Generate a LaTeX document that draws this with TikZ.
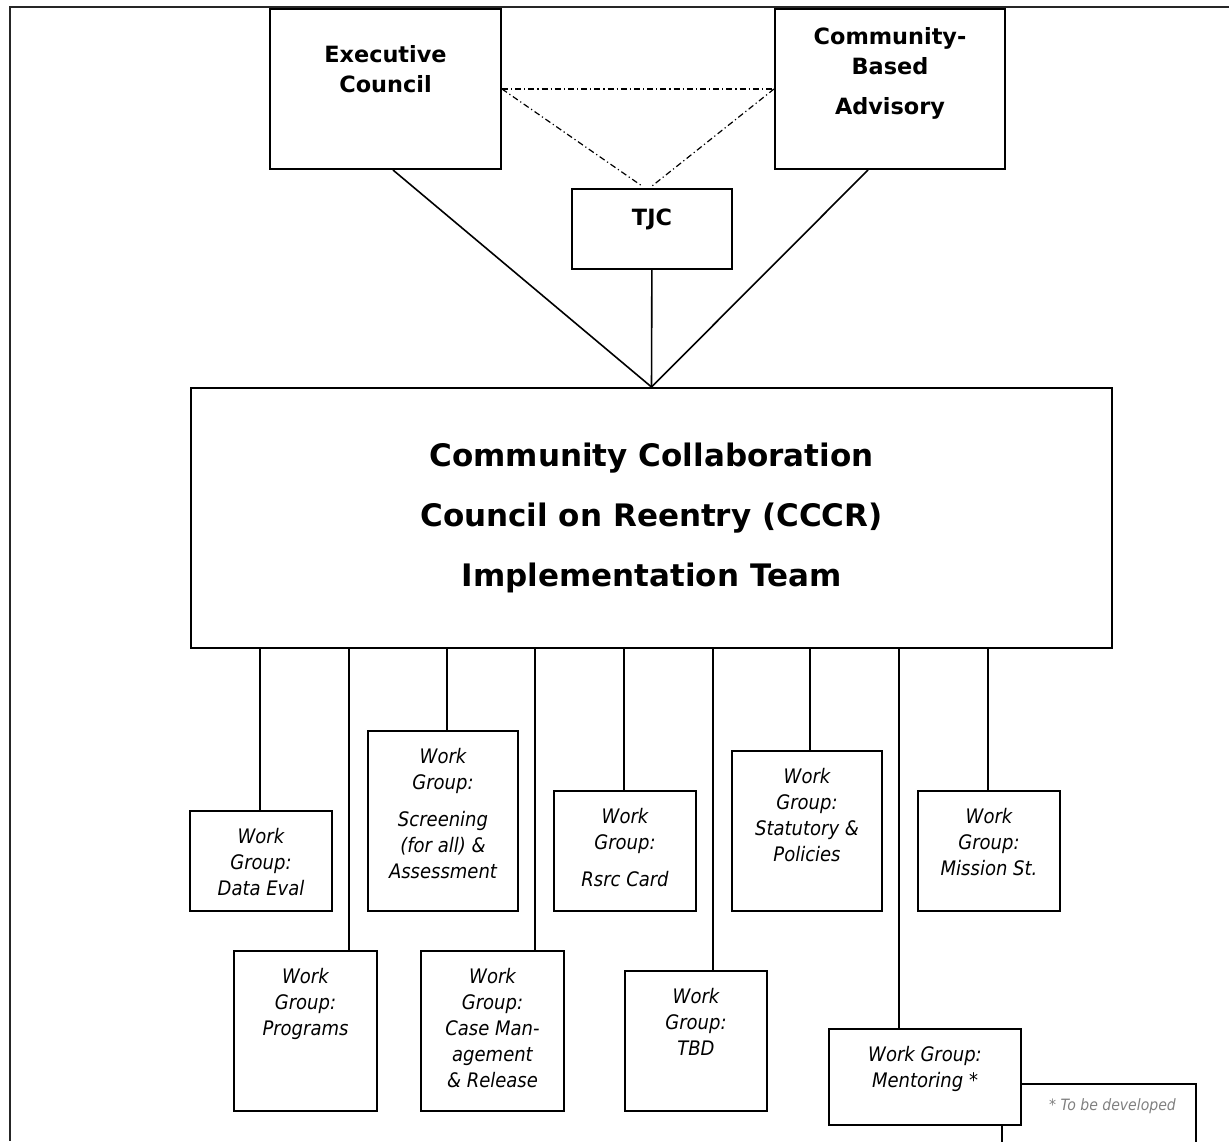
\documentclass[tikz,border=0pt]{standalone}
\usepackage{fontspec}
\setmainfont{DejaVu Sans}
\newfontfamily\condfont{DejaVu Sans Condensed}
\usetikzlibrary{positioning}

\newcommand{\boxtext}[4]{\parbox[t][#2][t]{#1}{\centering\vspace*{#3}#4}}

\begin{document}
\begin{tikzpicture}[
  x=0.5pt, y=-0.5pt,
  frame/.style={line width=1pt, draw=black!85},
  topbox/.style={rectangle, draw, line width=1pt, inner sep=0pt, anchor=north west,
                 font=\bfseries\fontsize{11.2}{15}\selectfont},
  mainbox/.style={rectangle, draw, line width=1pt, anchor=north west,
                  minimum width=460.5pt, minimum height=130pt, align=center,
                  font=\bfseries\fontsize{15.5}{30}\selectfont},
  wg/.style={rectangle, draw, line width=1pt, inner sep=0pt, anchor=north west, fill=white,
             font=\condfont\itshape\fontsize{10}{13}\selectfont},
  note/.style={rectangle, draw, line width=0.8pt, inner sep=0pt, anchor=north west,
               text=gray, font=\condfont\itshape\fontsize{7.8}{9}\selectfont},
  link/.style={line width=0.8pt},
  tie/.style={line width=0.6pt, dash pattern=on 3pt off 1.5pt on 0.6pt off 1.5pt}
]
  \useasboundingbox (0,0) rectangle (1229,1141);

  \draw[frame] (1229,6.5) -- (10,6.5) -- (10,1141);

  \node[topbox] (exec)     at (269,8)   {\boxtext{115.5pt}{80pt}{18pt}{Executive\\Council}};
  \node[topbox] (advisory) at (774,8)   {\boxtext{115pt}{80pt}{9pt}{Community-\\Based\\[5pt]Advisory}};
  \node[topbox] (tjc)      at (571,188) {\boxtext{80pt}{40pt}{10pt}{TJC}};
  \node[mainbox] (cccr)    at (190,387) {Community Collaboration\\Council on Reentry (CCCR)\\Implementation Team};

  \node[wg] (dataeval)  at (189,810) {\boxtext{71pt}{50pt}{8.5pt}{Work\\Group:\\Data Eval}};
  \node[wg] (programs)  at (233,950) {\boxtext{71.5pt}{80pt}{8.5pt}{Work\\Group:\\Programs}};
  \node[wg] (screening) at (367,730) {\boxtext{75pt}{90pt}{8.5pt}{Work\\Group:\\[5.5pt]Screening\\(for all) \&\\Assessment}};
  \node[wg] (casemgmt)  at (420,950) {\boxtext{71.5pt}{80pt}{8.5pt}{Work\\Group:\\Case Man-\\agement\\\& Release}};
  \node[wg] (rsrccard)  at (553,790) {\boxtext{71pt}{60pt}{8.5pt}{Work\\Group:\\[5.5pt]Rsrc Card}};
  \node[wg] (tbd)       at (624,970) {\boxtext{71pt}{70pt}{8.5pt}{Work\\Group:\\TBD}};
  \node[wg] (statutory) at (731,750) {\boxtext{75pt}{80pt}{8.5pt}{Work\\Group:\\Statutory \&\\Policies}};
  \node[note] (todo)    at (1001,1083) {\parbox[t][40pt][t]{97pt}{\raggedleft\vspace*{7.5pt}* To be developed\hspace*{10pt}}};
  \node[wg] (mentoring) at (828,1028) {\boxtext{96pt}{48pt}{8.5pt}{Work Group:\\Mentoring *}};
  \node[wg] (mission)   at (917,790) {\boxtext{71pt}{60pt}{8.5pt}{Work\\Group:\\Mission St.}};

  % links to the implementation team
  \draw[link] (exec.south -| 393,0) -- (cccr.north);
  \draw[link] (advisory.south -| 868,0) -- (cccr.north);
  \draw[link] (tjc) -- (cccr.north);
  \draw[tie] (exec.east) -- (advisory.west);
  \draw[tie] (exec.east) -- ([xshift=-5pt, yshift=1pt]tjc.north);
  \draw[tie] (advisory.west) -- ([yshift=1pt]tjc.north);

  % work groups
  \foreach \x/\grp in {260/dataeval, 349/programs, 447/screening, 535/casemgmt, 624/rsrccard,
                       713/tbd, 810/statutory, 899/mentoring, 988/mission}
    \draw[link] (cccr.south -| \x,0) -- (\grp.north -| \x,0);

\end{tikzpicture}
\end{document}
